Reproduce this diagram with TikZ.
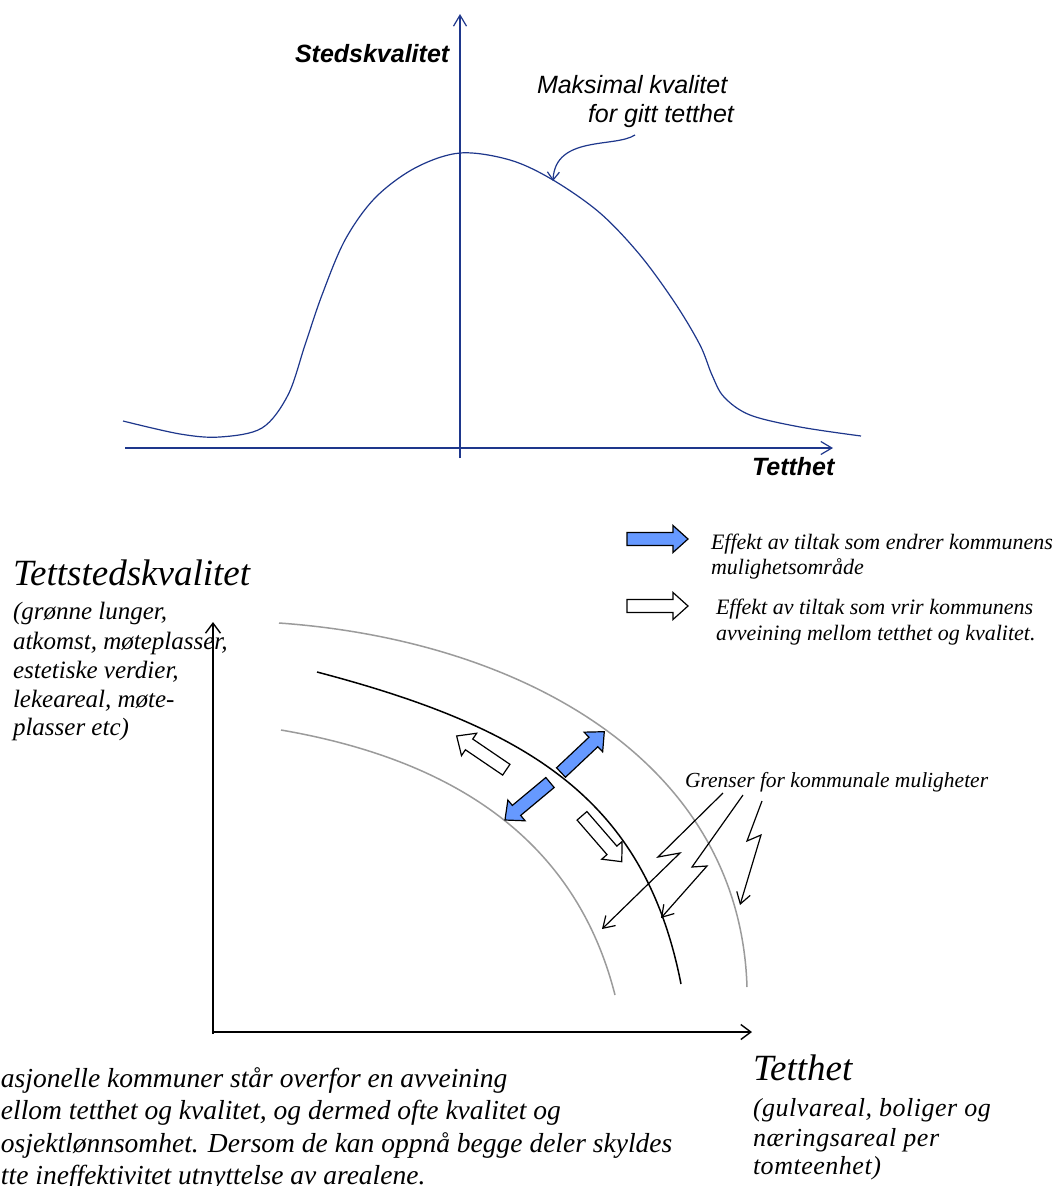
\documentclass[tikz,border=0pt]{standalone}
\usepackage{fontspec}
\setmainfont{Liberation Serif}
\newfontfamily\sansf{Liberation Sans}
\newfontfamily\seriff{Liberation Serif}
\newfontfamily\serifwide[LetterSpace=2]{Liberation Serif}
\usetikzlibrary{arrows.meta}
\definecolor{plotblue}{RGB}{30,55,140}
\definecolor{arrblue}{RGB}{102,153,255}
\definecolor{arcgray}{RGB}{155,155,155}
\newcommand\blkarrow[4]{%
  \begin{scope}[shift={(#2)},rotate=#3]
    \draw[#1] (0,-6.5) -- ({#4-15},-6.5) -- ({#4-15},-13.5) -- (#4,0) -- ({#4-15},13.5) -- ({#4-15},6.5) -- (0,6.5) -- cycle;
  \end{scope}}
\begin{document}
\begin{tikzpicture}[x=1pt,y=-1pt,
  lbl/.style={inner sep=0pt,outer sep=0pt,anchor=base west},
  topit/.style={lbl,font=\sansf\itshape\fontsize{25}{29}\selectfont},
  topbf/.style={lbl,font=\sansf\bfseries\itshape\fontsize{25}{29}\selectfont},
  bigit/.style={lbl,font=\seriff\itshape\fontsize{37}{41}\selectfont},
  subit/.style={lbl,font=\seriff\itshape\fontsize{25}{29}\selectfont},
  subwide/.style={lbl,font=\serifwide\itshape\fontsize{26}{29}\selectfont},
  legit/.style={lbl,font=\seriff\itshape\fontsize{22}{25}\selectfont},
  capit/.style={lbl,font=\seriff\itshape\fontsize{27.5}{33}\selectfont},
  grenit/.style={lbl,font=\seriff\itshape\fontsize{21.5}{25}\selectfont},
  plotline/.style={draw=plotblue,line width=1.2pt},
  plotaxis/.style={plotline,-{Straight Barb[length=11pt,width=13pt]}},
  axisblk/.style={draw=black,line width=1.4pt,-{Straight Barb[length=10pt,width=15pt]}},
  grayarc/.style={draw=arcgray,line width=1.5pt},
  blackarc/.style={draw=black,line width=1.5pt},
  bolt/.style={draw=black,line width=1.2pt,line join=miter,-{Straight Barb[length=11pt,width=14pt]}},
  bluearr/.style={draw=black,fill=arrblue,line width=1.2pt,line join=miter},
  whitearr/.style={draw=black,fill=white,line width=1.2pt,line join=miter}
]
\useasboundingbox (0,0) rectangle (1053,1186);
\fill[white] (0,0) rectangle (1053,1186);

% ---------- top chart ----------
\draw[plotaxis] (460,458) -- (460,14);
\draw[plotaxis] (125,448) -- (833,448);
\draw[plotline] plot[smooth,tension=0.55] coordinates {
 (123,421) (180,434) (220,437) (262,428) (288,395) (305,345) (322,295) (345,240)
 (375,198) (415,168) (460,153) (510,160) (553,180) (600,213) (640,255) (675,303)
 (700,345) (712,375) (724,397) (750,415) (800,427) (861,436)};
\node[topbf] (stedsk) at (295,62) {Stedskvalitet};
\node[topit] (maks1) at (537,93) {Maksimal kvalitet};
\node[topit] (maks2) at (588,122) {for gitt tetthet};
\coordinate (annS) at (635,135);
\coordinate (annE) at (553,181);
\draw[plotline,-{Straight Barb[length=8pt,width=12pt]}] (annS) .. controls (615,148) and (555,135) .. (annE);
\node[topbf] (tetthetTop) at (752,475) {Tetthet};

% ---------- legend ----------
\blkarrow{bluearr}{627,539}{0}{61}
\blkarrow{whitearr}{627,606}{0}{61}
\node[legit] (leg1a) at (711,549) {Effekt av tiltak som endrer kommunens};
\node[legit] (leg1b) at (711,574) {mulighetsområde};
\node[legit] (leg2a) at (716,614) {Effekt av tiltak som vrir kommunens};
\node[legit] (leg2b) at (716,640) {avveining mellom tetthet og kvalitet.};

% ---------- bottom chart ----------
\draw[axisblk] (213,1034) -- (213,622);
\draw[axisblk] (213,1032) -- (752,1032);

\draw[grayarc] (279,623) .. controls (520,640) and (740,760) .. (747,987);
\draw[blackarc] (317,672) .. controls (530,728) and (645,800) .. (681,984);
\draw[grayarc] (281,730) .. controls (461,761) and (577,845) .. (615,995);

\blkarrow{bluearr}{561,772.5}{43.3}{59.5}
\blkarrow{bluearr}{550,782.5}{219.8}{58.6}
\blkarrow{whitearr}{506.3,769.7}{145.8}{60}
\blkarrow{whitearr}{582,815.8}{-49.1}{60.7}

\node[grenit] (grenser) at (685,787) {Grenser for kommunale muligheter};
\coordinate (b1s) at (723,793);
\coordinate (b1e) at (602,929);
\coordinate (b2s) at (743,795);
\coordinate (b2e) at (661,918);
\coordinate (b3s) at (762,801);
\coordinate (b3e) at (740,905);
\draw[bolt] (b1s) -- (658,857) -- (680,853) -- (b1e);
\draw[bolt] (b2s) -- (692,867) -- (707,866) -- (b2e);
\draw[bolt] (b3s) -- (747,841) -- (761,835) -- (b3e);

\node[bigit] (ttsk) at (13,585) {Tettstedskvalitet};
\node[subit] (ts1) at (13,619) {(grønne lunger,};
\node[subit] (ts2) at (13,649) {atkomst, møteplasser,};
\node[subit] (ts3) at (13,678) {estetiske verdier,};
\node[subit] (ts4) at (13,707) {lekeareal, møte-};
\node[subit] (ts5) at (13,735) {plasser etc)};

\node[bigit] (tetthetBot) at (753,1080) {Tetthet};
\node[subwide] (tb1) at (753,1116) {(gulvareal, boliger og};
\node[subwide] (tb2) at (753,1146) {næringsareal per};
\node[subwide] (tb3) at (753,1174) {tomteenhet)};

\node[capit] (cap1) at (1,1087) {asjonelle kommuner står overfor en avveining};
\node[capit] (cap2) at (1,1119) {ellom tetthet og kvalitet, og dermed ofte kvalitet og};
\node[capit] (cap3) at (1,1152) {osjektlønnsomhet. Dersom de kan oppnå begge deler skyldes};
\node[capit] (cap4) at (1,1184) {tte ineffektivitet utnyttelse av arealene.};
\end{tikzpicture}
\end{document}
